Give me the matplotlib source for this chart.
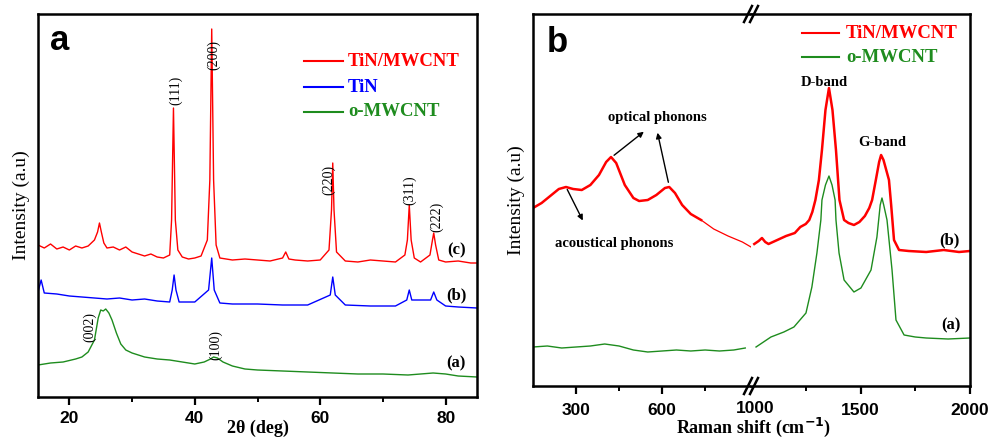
import matplotlib
matplotlib.use("Agg")
import matplotlib.pyplot as plt
from matplotlib.lines import Line2D
from matplotlib.ticker import MultipleLocator, FixedLocator

plt.rcParams['font.family'] = ['Liberation Sans', 'DejaVu Sans']
plt.rcParams['font.weight'] = 'bold'

RED = '#ff0000'
BLUE = '#0000ff'
GREEN = '#1e8c1e'
SERIF = ['Liberation Serif', 'DejaVu Serif']

# ---- panel a : XRD ----
xrd_x_c = [15, 16, 17, 18, 19, 20, 21, 22, 23, 24, 24.5, 24.8, 25.1, 25.5, 26, 27, 28, 29, 30, 31,
           32, 33, 34, 35, 36, 36.3, 36.6, 36.9, 37.3, 38, 39, 40, 41, 42, 42.4, 42.7, 43.0, 43.4, 44, 46,
           48, 50, 52, 54, 54.5, 55, 56, 58, 60, 61.4, 61.8, 62.0, 62.2, 62.6, 64, 66, 68, 70, 72, 73.5,
           73.9, 74.2, 74.5, 75, 76, 77.5, 77.9, 78.1, 78.4, 78.9, 80, 82, 84, 85]
xrd_y_c = [152, 149, 153, 148, 150, 147, 151, 149, 151, 157, 165, 174, 165, 154, 149, 150, 147, 150, 145, 143,
           141, 143, 140, 139, 142, 177, 289, 177, 147, 140, 138, 139, 141, 157, 217, 368, 217, 152, 139, 137,
           138, 137, 136, 139, 145, 138, 137, 136, 137, 147, 187, 234, 187, 145, 136, 135, 137, 136, 135, 142,
           157, 192, 157, 139, 135, 142, 157, 164, 152, 137, 135, 136, 134, 134]

xrd_x_b = [15, 15.5, 16, 18, 20, 22, 24, 26, 28, 30, 32, 34, 36, 36.4, 36.7, 37.0, 37.5, 40, 42.2, 42.7,
           43.1, 44, 46, 50, 54, 58, 61.6, 62.0, 62.4, 64, 68, 72, 73.8, 74.2, 74.6, 77.6, 78.1, 78.6, 80, 82, 85]
xrd_y_b = [105, 117, 104, 103, 101, 100, 99, 98, 99, 97, 98, 96, 95, 107, 122, 107, 95, 95, 107, 139,
           107, 94, 93, 93, 92, 92, 102, 120, 102, 92, 91, 91, 97, 107, 97, 97, 105, 97, 91, 90, 89]

xrd_x_a = [15, 17, 19, 21, 22, 23, 24, 24.6, 25.0, 25.4, 25.8, 26.3, 26.8, 27.5, 28.2, 29, 30, 32, 34, 36,
           38, 40, 41.5, 42.5, 43, 43.6, 44.5, 46, 48, 50, 54, 58, 62, 66, 70, 74, 78, 80, 82, 85]
xrd_y_a = [32, 34, 35, 38, 40, 45, 57, 79, 87, 86, 88, 84, 77, 64, 53, 47, 44, 40, 38, 37,
           35, 33, 35, 38, 40, 39, 35, 31, 28, 27, 26, 25, 24, 23, 23, 22, 24, 23, 21, 20]

xrd_names = ['TiN/MWCNT', 'TiN', 'o-MWCNT']
xrd_peaks = ['(111)', '(200)', '(220)', '(311)', '(222)']
xrd_peak_pos = [(36.9, 307), (43.0, 342), (61.4, 217), (74.2, 207), (78.5, 180)]

# ---- panel b : Raman ----
ram_red_l_x = [150, 180, 210, 240, 265, 290, 320, 350, 380, 405, 422, 440, 470, 500, 520, 550, 580, 610,
               625, 645, 670, 700, 736]
ram_red_l_y = [178, 183, 190, 197, 199, 197, 196, 201, 211, 224, 229, 223, 201, 188, 185, 186, 191, 198,
               199, 193, 181, 172, 166]
ram_red_tail_x = [736, 780, 830, 880, 910]
ram_red_tail_y = [166, 157, 150, 144, 139]
ram_red_r_x = [1015, 1035, 1050, 1065, 1080, 1120, 1160, 1200, 1225, 1250, 1266, 1280, 1294, 1310, 1324,
               1340, 1356, 1372, 1388, 1404, 1425, 1445, 1470, 1495, 1520, 1540, 1553, 1570, 1585, 1594,
               1605, 1620, 1630, 1640, 1653, 1676, 1720, 1800, 1880, 1950, 2000]
ram_red_r_y = [142, 145, 148, 144, 142, 146, 150, 153, 159, 162, 166, 174, 186, 206, 236,
               276, 298, 276, 236, 186, 166, 163, 161, 164, 170, 178, 186, 206, 224, 231,
               226, 214, 206, 181, 146, 136, 135, 134, 136, 134, 135]

ram_grn_l_x = [150, 200, 250, 300, 350, 400, 450, 500, 550, 600, 650, 700, 750, 800, 850, 890]
ram_grn_l_y = [39, 40, 38, 39, 40, 42, 40, 36, 34, 35, 36, 35, 36, 35, 36, 38]
ram_grn_r_x = [1023, 1091, 1150, 1196, 1251, 1278, 1301, 1319, 1324, 1340, 1356, 1370, 1384, 1388, 1402,
               1425, 1470, 1502, 1548, 1575, 1590, 1598, 1606, 1621, 1644, 1662, 1699, 1750, 1800, 1900, 2000]
ram_grn_r_y = [39, 49, 54, 59, 73, 99, 133, 166, 186, 201, 210, 201, 186, 166, 133,
               106, 94, 98, 116, 149, 181, 188, 181, 166, 116, 66, 51, 49, 48, 47, 48]

ram_names = ['TiN/MWCNT', 'o-MWCNT']

W, H = 988, 440
fig = plt.figure(figsize=(W / 100, H / 100), dpi=100)


def fx(px):
    return px / W


def fy(py):
    return 1 - py / H


def style_axis(ax, spines, pad=4):
    for s in ['left', 'right', 'top', 'bottom']:
        ax.spines[s].set_visible(s in spines)
        ax.spines[s].set_linewidth(1.8)
    ax.tick_params(axis='x', direction='out', length=6, width=1.6, labelsize=12.5, pad=pad)
    ax.tick_params(axis='x', which='minor', direction='out', length=3.5, width=1.4)
    ax.tick_params(axis='y', left=False, labelleft=False)


# panel a
axa = fig.add_axes([fx(38), fy(397), fx(439), 383 / H])
axa.plot(xrd_x_c, xrd_y_c, color=RED, lw=1)
axa.plot(xrd_x_b, xrd_y_b, color=BLUE, lw=1)
axa.plot(xrd_x_a, xrd_y_a, color=GREEN, lw=1)
axa.set_xlim(15, 85)
axa.set_ylim(0, 383)
axa.xaxis.set_major_locator(MultipleLocator(20))
axa.xaxis.set_minor_locator(MultipleLocator(10))
style_axis(axa, ['left', 'right', 'top', 'bottom'])
axa.set_ylabel('Intensity (a.u)', family=SERIF, fontsize=14, labelpad=6)
fig.text(fx(258), fy(428), '2θ (deg)', family=SERIF, fontsize=13, ha='center', va='center')

for lab, (x, y) in zip(xrd_peaks, xrd_peak_pos):
    axa.text(x, y, lab, family=SERIF, weight='normal', fontsize=10, rotation=90, ha='center', va='center')
axa.text(23.2, 70, '(002)', family=SERIF, weight='normal', fontsize=10, rotation=90, ha='center', va='center')
axa.text(43.3, 52, '(100)', family=SERIF, weight='normal', fontsize=10, rotation=90, ha='center', va='center')
for lab, y in zip(['(c)', '(b)', '(a)'], [147, 102, 34]):
    axa.text(81.7, y, lab, family=SERIF, fontsize=12, ha='center', va='center')

fig.text(fx(60), fy(41), 'a', fontsize=25, ha='center', va='center')
for name, col, py in zip(xrd_names, [RED, BLUE, GREEN], [61, 87, 112]):
    fig.add_artist(Line2D([fx(304), fx(343)], [fy(py), fy(py)], color=col, lw=1.5, transform=fig.transFigure))
    fig.text(fx(348), fy(py), name, color=col, family=SERIF, fontsize=13.5, ha='left', va='center')

# panel b (broken x axis)
axl = fig.add_axes([fx(533), fy(386), fx(218), 372 / H])
axr = fig.add_axes([fx(751), fy(386), fx(219), 372 / H])
axl.plot(ram_red_l_x, ram_red_l_y, color=RED, lw=1.8)
axl.plot(ram_red_tail_x, ram_red_tail_y, color=RED, lw=0.9)
axl.plot(ram_grn_l_x, ram_grn_l_y, color=GREEN, lw=1)
axr.plot(ram_red_r_x, ram_red_r_y, color=RED, lw=1.8)
axr.plot(ram_grn_r_x, ram_grn_r_y, color=GREEN, lw=1)
axl.set_xlim(150, 910)
axr.set_xlim(1000, 2000)
for ax in (axl, axr):
    ax.set_ylim(0, 372)
axl.xaxis.set_major_locator(FixedLocator([300, 600]))
axl.xaxis.set_minor_locator(FixedLocator([450, 750]))
axr.xaxis.set_major_locator(FixedLocator([1500, 2000]))
axr.xaxis.set_minor_locator(FixedLocator([1250, 1750]))
style_axis(axl, ['left', 'top', 'bottom'], pad=6)
style_axis(axr, ['right', 'top', 'bottom'], pad=6)
axr.text(1020, -0.04, '1000', transform=axr.get_xaxis_transform(), ha='center', va='top', fontsize=12.5)
axl.set_ylabel('Intensity (a.u)', family=SERIF, fontsize=14, labelpad=6)
fig.text(fx(754), fy(427), 'Raman shift (cm$^{\\mathbf{-1}}$)', family=SERIF, fontsize=13,
         ha='center', va='center')

# break marks
for py in (14, 386):
    for off in (-3, 3):
        fig.add_artist(Line2D([fx(751 + off - 4), fx(751 + off + 4)], [fy(py + 8), fy(py - 8)],
                              color='black', lw=1.8, transform=fig.transFigure))

# annotations
ann = dict(family=SERIF, fontsize=10.5, ha='center', va='center')
axl.text(582, 269, 'optical phonons', **ann)
axl.text(433, 143, 'acoustical phonons', **ann)
axl.annotate('', xy=(544, 256), xytext=(425, 229),
             arrowprops=dict(arrowstyle='-|>', color='black', lw=1, mutation_scale=8))
axl.annotate('', xy=(582, 256), xytext=(624, 201),
             arrowprops=dict(arrowstyle='-|>', color='black', lw=1, mutation_scale=8))
axl.annotate('', xy=(328, 163), xytext=(265, 199),
             arrowprops=dict(arrowstyle='-|>', color='black', lw=1, mutation_scale=8))
axr.text(1333, 304, 'D-band', **ann)
axr.text(1598, 243, 'G-band', **ann)
axr.text(1904, 146, '(b)', family=SERIF, fontsize=12, ha='center', va='center')
axr.text(1913, 61, '(a)', family=SERIF, fontsize=12, ha='center', va='center')

fig.text(fx(557), fy(42), 'b', fontsize=25, ha='center', va='center')
for name, col, py in zip(ram_names, [RED, GREEN], [33, 57]):
    fig.add_artist(Line2D([fx(802), fx(839)], [fy(py), fy(py)], color=col, lw=1.5, transform=fig.transFigure))
    fig.text(fx(846), fy(py), name, color=col, family=SERIF, fontsize=13.5, ha='left', va='center')

fig.savefig('out.png', dpi=100)
